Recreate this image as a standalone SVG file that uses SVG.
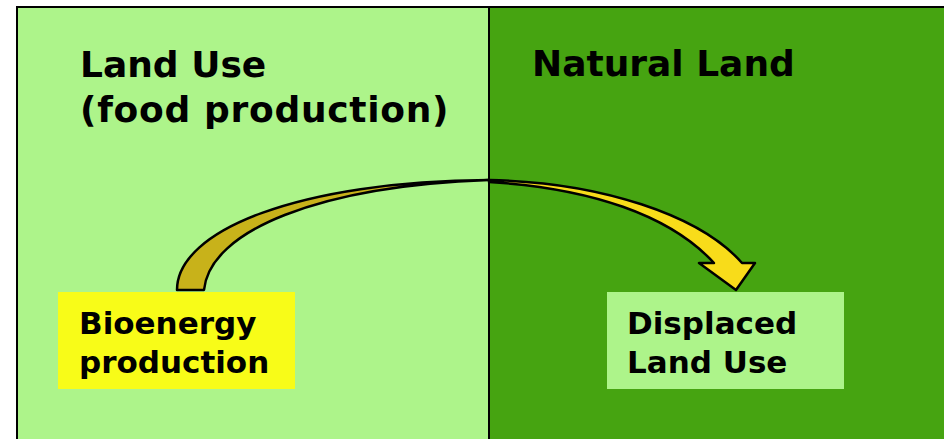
<svg xmlns="http://www.w3.org/2000/svg" width="944" height="439" viewBox="0 0 944 439">
  <style>
    text { font-family: "DejaVu Sans", Verdana, sans-serif; font-weight: bold; fill: #000; }
    .title { font-size: 36px; }
    .label { font-size: 31px; }
    .arrow { stroke: #000; stroke-width: 2.5; stroke-linejoin: round; }
  </style>
  <rect x="0" y="0" width="944" height="439" fill="#ffffff"/>
  <g id="land-use-panel">
    <rect x="17" y="7" width="472" height="440" fill="#adf48a"/>
    <text class="title" x="80" y="77">Land Use</text>
    <text class="title" x="80" y="122" letter-spacing="0.7">(food production)</text>
  </g>
  <g id="natural-land-panel">
    <rect x="489" y="7" width="460" height="440" fill="#46a411"/>
    <text class="title" x="532" y="76">Natural Land</text>
  </g>
  <g id="bioenergy">
    <rect x="58" y="292" width="237" height="97" fill="#f8fc18"/>
    <text class="label" x="79" y="334">Bioenergy</text>
    <text class="label" x="79" y="373">production</text>
  </g>
  <g id="displaced">
    <rect x="607" y="292" width="237" height="97" fill="#adf48a"/>
    <text class="label" x="627" y="334">Displaced</text>
    <text class="label" x="627" y="373">Land Use</text>
  </g>
  <g id="connectors">
    <path class="arrow" fill="#c8b21a" d="M177,290 C177,230 300,181 489,180 C320,186 210,230 204,290 Z"/>
    <path class="arrow" fill="#f8dc1a" d="M489,180 C600,182 700,215 742,263 L755,263 L736,290 L699,263 L714,263 C670,215 590,188 489,182 Z"/>
  </g>
  <g id="frame" fill="none" stroke="#000" stroke-width="2">
    <line x1="489" y1="7" x2="489" y2="439"/>
    <polyline points="17,439 17,7 944,7"/>
  </g>
</svg>
